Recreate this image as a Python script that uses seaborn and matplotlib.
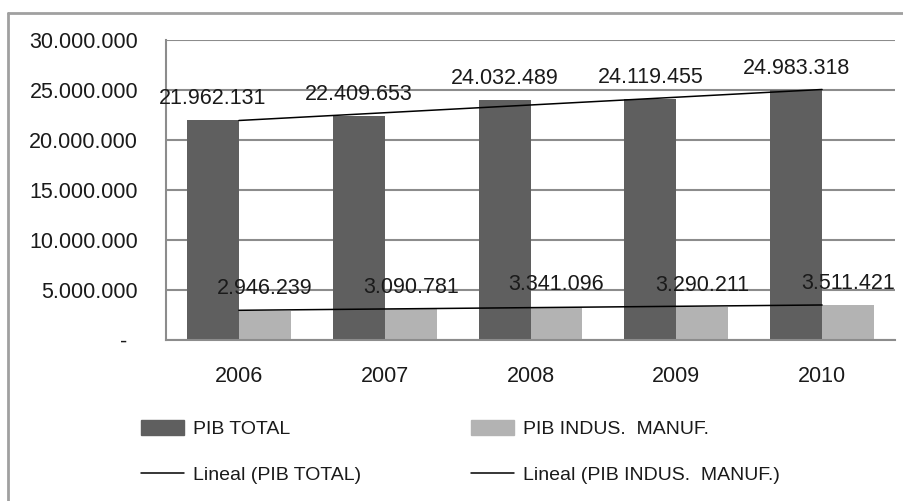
import numpy as np
import pandas as pd
import seaborn as sns
import matplotlib.pyplot as plt
from matplotlib.lines import Line2D
from matplotlib.patches import Patch
from matplotlib.transforms import ScaledTranslation

# data
years = ["2006", "2007", "2008", "2009", "2010"]
pib_total = [21962131, 22409653, 24032489, 24119455, 24983318]
pib_manuf = [2946239, 3090781, 3341096, 3290211, 3511421]
series = ["PIB TOTAL", "PIB INDUS.  MANUF."]
y_ticks = [0, 5000000, 10000000, 15000000, 20000000, 25000000, 30000000]

dark = "#5f5f5f"
light = "#b3b3b3"
grid = "#8c8c8c"

df = pd.DataFrame({
    "year": years * 2,
    "serie": [series[0]] * len(years) + [series[1]] * len(years),
    "valor": pib_total + pib_manuf,
})

sns.set_style("white")
plt.rcParams["font.family"] = ["Liberation Sans", "DejaVu Sans"]

W, H = 904, 501
fig = plt.figure(figsize=(W / 100, H / 100), dpi=100)
ax = fig.add_axes([166 / W, (H - 340) / H, (895 - 166) / W, 300 / H])

sns.barplot(data=df, x="year", y="valor", hue="serie", order=years,
            hue_order=series, palette=[dark, light], width=0.712,
            saturation=1, linewidth=0, legend=False, ax=ax, zorder=2)


def dotted(v):
    return f"{v:,.0f}".replace(",", ".")


for cont, vals in zip(ax.containers, [pib_total, pib_manuf]):
    ax.bar_label(cont, labels=[dotted(v) for v in vals], padding=8,
                 fontsize=15.5, color="#1a1a1a", zorder=5)

# linear trendlines (Excel "Lineal")
xs = np.arange(len(years))
for vals in [pib_total, pib_manuf]:
    k, b = np.polyfit(xs, vals, 1)
    ax.plot(xs, k * xs + b, color="black", lw=1.1, zorder=4)

ax.set_xlim(-0.5, len(years) - 0.5)
ax.set_ylim(0, 30000000)
ax.set_yticks(y_ticks)
ax.set_yticklabels(["-"] + [dotted(v) for v in y_ticks[1:]])
ax.tick_params(axis="y", length=0, pad=20, labelsize=15.5, labelcolor="#1a1a1a")
ax.tick_params(axis="x", length=0, pad=19, labelsize=15.5, labelcolor="#1a1a1a")
dash = ax.get_yticklabels()[0]
dash.set_transform(dash.get_transform() + ScaledTranslation(-11 / 100, 0, fig.dpi_scale_trans))
ax.set_xlabel("")
ax.set_ylabel("")
ax.yaxis.grid(True, color=grid, lw=1.5, zorder=0)
ax.set_axisbelow(True)
for s in ["top", "right"]:
    ax.spines[s].set_visible(False)
for s in ["left", "bottom"]:
    ax.spines[s].set_color(grid)
    ax.spines[s].set_linewidth(1.5)

# outer chart frame (only left and top visible in the crop)
fig.add_artist(Line2D([8 / W, 8 / W], [0, 1 - 13 / H], color="#a0a0a0", lw=2, transform=fig.transFigure))
fig.add_artist(Line2D([8 / W, 1], [1 - 13 / H, 1 - 13 / H], color="#a0a0a0", lw=2, transform=fig.transFigure))

leg_kw = dict(loc="upper left", frameon=False, fontsize=14, handlelength=2.2,
              handleheight=0.82, handletextpad=0.45, labelspacing=1.4,
              borderpad=0, borderaxespad=0)
h1 = [Patch(color=dark), Line2D([], [], color="black", lw=1.1)]
h2 = [Patch(color=light), Line2D([], [], color="black", lw=1.1)]
leg1 = fig.legend(h1, ["PIB TOTAL", "Lineal (PIB TOTAL)"],
                  bbox_to_anchor=(141 / W, 1 - 420 / H), **leg_kw)
leg2 = fig.legend(h2, ["PIB INDUS.  MANUF.", "Lineal (PIB INDUS.  MANUF.)"],
                  bbox_to_anchor=(471 / W, 1 - 420 / H), **leg_kw)
for leg in (leg1, leg2):
    for t in leg.get_texts():
        t.set_color("#1a1a1a")

fig.savefig("out.png", dpi=100)
